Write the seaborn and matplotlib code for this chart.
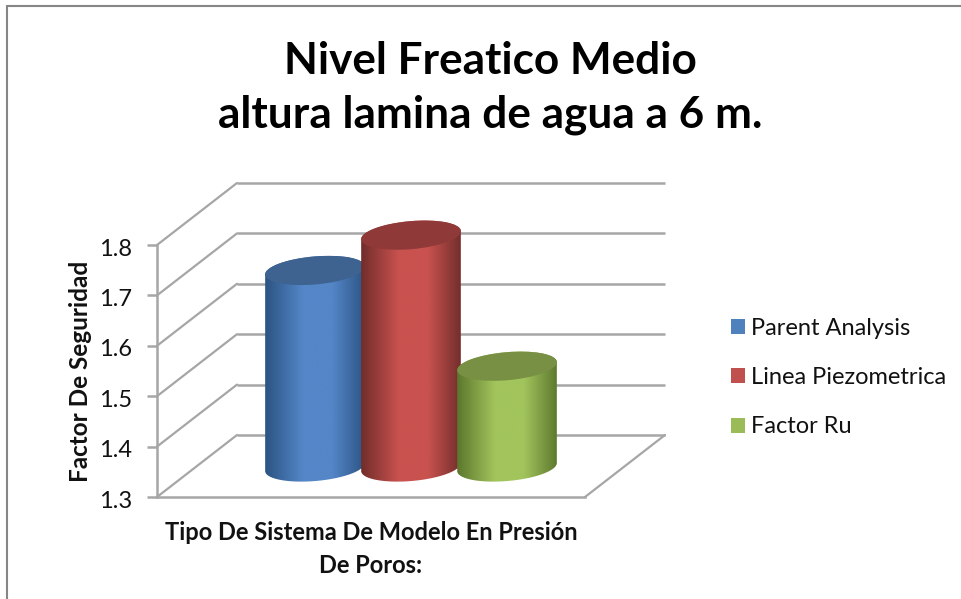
import numpy as np
import pandas as pd
import matplotlib
matplotlib.use("Agg")
import matplotlib.pyplot as plt
import seaborn as sns
from matplotlib.colors import LinearSegmentedColormap
from matplotlib.lines import Line2D
from matplotlib.patches import Ellipse, PathPatch, Patch, Rectangle
from matplotlib.path import Path
from matplotlib.transforms import Affine2D, IdentityTransform

series = ["Parent Analysis", "Linea Piezometrica", "Factor Ru"]
values = [1.69, 1.76, 1.50]
y_ticks = [1.3, 1.4, 1.5, 1.6, 1.7, 1.8]
base_colors = ["#4F81BD", "#C0504D", "#9BBB59"]
dark_colors = ["#2A5280", "#6E2C2A", "#5A752C"]
bright_colors = ["#5486C8", "#C9524F", "#A2C45C"]
top_colors = ["#3E6391", "#8F3A38", "#789043"]
title = "Nivel Freatico Medio\naltura lamina de agua a 6 m."
x_label = "Tipo De Sistema De Modelo En Presión\nDe Poros:"
y_label = "Factor De Seguridad"

W, H = 961, 599
GRID = "#A6A6A6"
TXT = "#111111"

sns.set_theme(style="white")
plt.rcParams["font.family"] = ["Lato", "DejaVu Sans"]

fig = plt.figure(figsize=(W / 100, H / 100), dpi=100)
fig.patch.set_facecolor("white")
# front plane of the 3D box, pixel positions converted to figure fractions
x0, x1, ytop, ybot = 157, 585, 245, 497
ax = fig.add_axes([x0 / W, 1 - ybot / H, (x1 - x0) / W, (ybot - ytop) / H])
ax.patch.set_alpha(0)

df = pd.DataFrame({"cat": [""] * 3, "serie": series, "valor": values})
sns.barplot(data=df, x="cat", y="valor", hue="serie", hue_order=series,
            palette=base_colors, width=0.673, legend=False, ax=ax)
XL, YL = (-0.5, 0.5), (1.3, 1.8)
ax.set_xlim(*XL)
ax.set_ylim(*YL)
ax.set_yticks(y_ticks)
ax.set_yticklabels([f"{v:.1f}" for v in y_ticks])
ax.set_xticks([])

for s in ("top", "right"):
    ax.spines[s].set_visible(False)
for s in ("left", "bottom"):
    ax.spines[s].set_color(GRID)
    ax.spines[s].set_linewidth(1.8)
ax.tick_params(axis="y", left=True, length=7, width=1.8, color=GRID, pad=11,
               labelsize=17, labelcolor=TXT)
for lab in ax.get_yticklabels():
    lab.set_transform(lab.get_transform() + Affine2D().translate(0, -2))

ax.set_xlabel(x_label, fontsize=17, fontweight="bold", color=TXT, linespacing=1.55)
ax.xaxis.set_label_coords(0.5, -0.095)
ax.set_ylabel(y_label, fontsize=17.5, fontweight="bold", color=TXT)
ax.yaxis.set_label_coords(-0.153, 0.5)

fig.canvas.draw()
to_px = ax.transData.transform
DX, DY = 80, 62
back = ax.transData + Affine2D().translate(DX, DY)

# back wall lines and side diagonals
for v in y_ticks:
    ax.plot(XL, [v, v], color=GRID, lw=1.8, transform=back, clip_on=False, zorder=1,
            solid_capstyle="butt")
    p = to_px((XL[0], v))
    ax.add_line(Line2D([p[0], p[0] + DX], [p[1], p[1] + DY], color=GRID, lw=1.6,
                       transform=IdentityTransform(), clip_on=False, zorder=1))
p = to_px((XL[1], YL[0]))
ax.add_line(Line2D([p[0], p[0] + DX], [p[1], p[1] + DY], color=GRID, lw=1.6,
                   transform=IdentityTransform(), clip_on=False, zorder=1))

# cylinders, from the seaborn bars
MX, MY = 40, 30
B = 14
THETA = np.deg2rad(5)


def ell(c, a, t):
    return np.column_stack([
        c[0] + a * np.cos(t) * np.cos(THETA) - B * np.sin(t) * np.sin(THETA),
        c[1] + a * np.cos(t) * np.sin(THETA) + B * np.sin(t) * np.cos(THETA),
    ])


bars = list(ax.patches)
for i, bar in enumerate(bars):
    bar.set_visible(False)
    xc = bar.get_x() + bar.get_width() / 2
    left = to_px((bar.get_x(), YL[0]))[0]
    right = to_px((bar.get_x() + bar.get_width(), YL[0]))[0]
    a = (right - left) / 2 + 2
    bottom_c = to_px((xc, YL[0])) + np.array([MX, MY])
    top_c = to_px((xc, bar.get_height())) + np.array([MX, MY])
    lower = ell(bottom_c, a, np.linspace(np.pi, 2 * np.pi, 60))
    upper = ell(top_c, a, np.linspace(0, np.pi, 60))
    verts = np.vstack([lower, upper, lower[:1]])
    path = Path(verts, closed=True)
    z = 3 + i
    cmap = LinearSegmentedColormap.from_list(
        f"c{i}", [(0, dark_colors[i]), (0.38, bright_colors[i]),
                  (0.66, bright_colors[i]), (1, dark_colors[i])])
    im = ax.imshow(np.linspace(0, 1, 256)[None, :], cmap=cmap, aspect="auto",
                   extent=(bottom_c[0] - a - 1, bottom_c[0] + a + 1, verts[:, 1].min(), verts[:, 1].max()),
                   transform=IdentityTransform(), zorder=z, interpolation="bilinear")
    clip = PathPatch(path, transform=IdentityTransform())
    im.set_clip_box(fig.bbox)
    im.set_clip_path(clip)
    ax.add_patch(Ellipse(top_c, 2 * a, 2 * B, angle=np.degrees(THETA), facecolor=top_colors[i],
                         edgecolor="none", transform=IdentityTransform(), clip_on=False, zorder=z))
ax.set_xlim(*XL)
ax.set_ylim(*YL)

fig.suptitle(title, x=490 / W, y=1 - 41 / H, va="top", fontsize=31.8, fontweight="bold",
             color="black", linespacing=1.42)

handles = [Patch(facecolor=c, edgecolor="none", label=s) for c, s in zip(base_colors, series)]
fig.legend(handles=handles, loc="center left", bbox_to_anchor=(731 / W, 1 - 377.5 / H), frameon=False,
           fontsize=17, handlelength=0.6, handleheight=0.6, handletextpad=0.25,
           labelspacing=1.2, labelcolor=TXT, borderpad=0, borderaxespad=0)

fig.add_artist(Rectangle((7 / W, -0.1), 1.1, 1 - 6 / H + 0.1, transform=fig.transFigure,
                         facecolor="none", edgecolor="#868686", lw=1.5, zorder=-1))

fig.savefig("out.png", dpi=100)
